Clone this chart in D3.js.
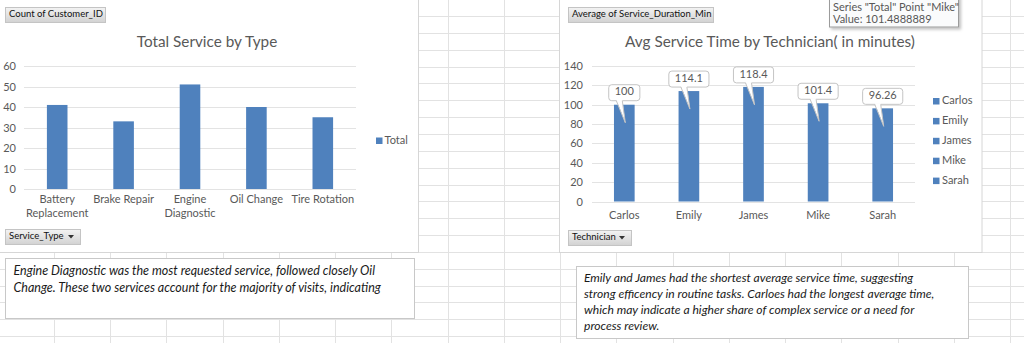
<!DOCTYPE html>
<html><head><meta charset="utf-8">
<script src="https://cdn.jsdelivr.net/npm/d3@7"></script>
<style>
html,body{margin:0;padding:0;background:#fff;overflow:hidden}
svg{display:block}
text{font-family:Lato,"Noto Sans",sans-serif}
</style>
</head><body>
<svg id="c" width="1024" height="343"></svg>
<script>
// ---------- data ----------
const serviceTypes = ["Battery Replacement", "Brake Repair", "Engine Diagnostic", "Oil Change", "Tire Rotation"];
const serviceCounts = [41, 33, 51, 40, 35];
const countTicks = [0, 10, 20, 30, 40, 50, 60];
const countSeries = ["Total"];

const technicians = ["Carlos", "Emily", "James", "Mike", "Sarah"];
const avgDurations = [100.0, 114.1, 118.4, 101.4888889, 96.26];
const durationLabels = ["100", "114.1", "118.4", "101.4", "96.26"];
const durationTicks = [0, 20, 40, 60, 80, 100, 120, 140];

const chart1Title = "Total Service by Type";
const chart2Title = "Avg Service Time by Technician( in minutes)";
const chart1Field = "Count of Customer_ID";
const chart2Field = "Average of Service_Duration_Min";
const chart1Axis = "Service_Type";
const chart2Axis = "Technician";
const tooltipLines = ['Series "Total" Point "Mike"', "Value: 101.4888889"];
const note1Lines = ["Engine Diagnostic was the most requested service, followed closely Oil",
                    "Change. These two services account for the majority of visits, indicating"];
const note2Lines = ["Emily and James had the shortest average service time, suggesting",
                    "strong efficency in routine tasks. Carloes had the longest average time,",
                    "which may indicate a higher share of complex service or a need for",
                    "process review."];

// ---------- drawing ----------
const svg = d3.select("#c");
const BAR = "#4f81bd", GRID = "#e3e3e3", AXT = "#595959";

const defs = svg.append("defs");
const grad = defs.append("linearGradient").attr("id", "btn").attr("x1", 0).attr("y1", 0).attr("x2", 0).attr("y2", 1);
grad.append("stop").attr("offset", "0%").attr("stop-color", "#f3f3f3");
grad.append("stop").attr("offset", "100%").attr("stop-color", "#d2d2d2");
const sh = defs.append("filter").attr("id", "shadow").attr("x", "-10%").attr("y", "-10%").attr("width", "130%").attr("height", "150%");
sh.append("feDropShadow").attr("dx", 2).attr("dy", 2).attr("stdDeviation", 1.5).attr("flood-color", "#000").attr("flood-opacity", 0.25);

// spreadsheet grid
const gridG = svg.append("g");
for (let k = 0; k < 20; k++) {
  const y = Math.round(16 + 16.85 * k) + 0.5;
  gridG.append("line").attr("x1", 0).attr("x2", 1024).attr("y1", y).attr("y2", y).attr("stroke", "#e2e2e2");
}
for (let k = 0; k < 18; k++) {
  const x = Math.round(54 + 56.24 * k) + 0.5;
  gridG.append("line").attr("x1", x).attr("x2", x).attr("y1", 0).attr("y2", 343).attr("stroke", "#e2e2e2");
}

function button(g, x, y, w, h, label, arrow) {
  g.append("rect").attr("x", x + 0.5).attr("y", y + 0.5).attr("width", w).attr("height", h)
    .attr("fill", "url(#btn)").attr("stroke", "#c4c4c4");
  g.append("text").attr("x", x + 4).attr("y", y + h / 2 + 0.5).attr("dominant-baseline", "middle")
    .attr("font-size", 9.5).attr("fill", "#111").text(label);
  if (arrow) {
    const ax = x + w - 9, ay = y + h / 2;
    g.append("path").attr("d", `M${ax - 3},${ay - 1.5}L${ax + 3},${ay - 1.5}L${ax},${ay + 2}Z`).attr("fill", "#333");
  }
}

function wrap(textSel, width) {
  textSel.each(function () {
    const t = d3.select(this);
    const words = t.text().split(/\s+/);
    const x = t.attr("x") || 0;
    t.text(null);
    let line = [];
    let tspan = t.append("tspan").attr("x", x).attr("dy", 0);
    words.forEach(w => {
      line.push(w);
      tspan.text(line.join(" "));
      if (tspan.node().getComputedTextLength() > width && line.length > 1) {
        line.pop();
        tspan.text(line.join(" "));
        line = [w];
        tspan = t.append("tspan").attr("x", x).attr("dy", "1.25em").text(w);
      }
    });
  });
}

function styleAxis(g) {
  g.select(".domain").remove();
  g.selectAll(".tick line").remove();
  g.selectAll("text").attr("fill", AXT).attr("font-size", 11).attr("font-family", "Lato,'Noto Sans',sans-serif");
}

// ===== Chart 1 =====
const c1 = svg.append("g");
c1.append("rect").attr("x", -1).attr("y", -1).attr("width", 419.5).attr("height", 253.5)
  .attr("fill", "#fff").attr("stroke", "#d6d6d6");
button(c1, 5, 7, 100, 15, chart1Field, false);
c1.append("text").attr("x", 207).attr("y", 47).attr("text-anchor", "middle")
  .attr("font-size", 15.3).attr("fill", AXT).text(chart1Title);

const x1 = d3.scaleBand().domain(serviceTypes).range([24, 356]).paddingInner(0.69).paddingOuter(0.345);
const y1 = d3.scaleLinear().domain([0, 60]).range([189, 66]);

c1.append("g").selectAll("line").data(countTicks).join("line")
  .attr("x1", 24).attr("x2", 356)
  .attr("y1", d => Math.round(y1(d)) + 0.5).attr("y2", d => Math.round(y1(d)) + 0.5)
  .attr("stroke", GRID);

c1.append("g").selectAll("rect").data(serviceCounts).join("rect")
  .attr("x", (d, i) => x1(serviceTypes[i])).attr("width", x1.bandwidth())
  .attr("y", d => y1(d)).attr("height", d => y1(0) - y1(d)).attr("fill", BAR);

c1.append("g").attr("transform", "translate(16,0)")
  .call(d3.axisLeft(y1).tickValues(countTicks).tickSize(0).tickPadding(0))
  .call(styleAxis);

const xa1 = c1.append("g").attr("transform", "translate(0,189)")
  .call(d3.axisBottom(x1).tickSize(0).tickPadding(14))
  .call(styleAxis);
xa1.selectAll("text").attr("dy", "0.2em").call(wrap, 72);

c1.append("rect").attr("x", 376).attr("y", 137.5).attr("width", 6.5).attr("height", 6.5).attr("fill", BAR);
c1.append("text").attr("x", 384.5).attr("y", 141).attr("dominant-baseline", "middle")
  .attr("font-size", 11).attr("fill", AXT).text(countSeries[0]);

button(c1, 5, 229, 75, 15, chart1Axis, true);

// ===== Chart 2 =====
const c2 = svg.append("g");
c2.append("rect").attr("x", 559.5).attr("y", -1).attr("width", 422.5).attr("height", 253.5)
  .attr("fill", "#fff").attr("stroke", "#d6d6d6");
button(c2, 568, 7, 145, 15, chart2Field, false);
c2.append("text").attr("x", 770).attr("y", 47).attr("text-anchor", "middle")
  .attr("font-size", 15.3).attr("fill", AXT).text(chart2Title);

const x2 = d3.scaleBand().domain(technicians).range([592, 915]).paddingInner(0.68).paddingOuter(0.34);
const y2 = d3.scaleLinear().domain([0, 140]).range([201.5, 66]);

c2.append("g").selectAll("line").data(durationTicks).join("line")
  .attr("x1", 592).attr("x2", 915)
  .attr("y1", d => Math.round(y2(d)) + 0.5).attr("y2", d => Math.round(y2(d)) + 0.5)
  .attr("stroke", GRID);

c2.append("g").selectAll("rect").data(avgDurations).join("rect")
  .attr("x", (d, i) => x2(technicians[i])).attr("width", x2.bandwidth())
  .attr("y", d => y2(d)).attr("height", d => y2(0) - y2(d)).attr("fill", BAR);

c2.append("g").attr("transform", "translate(583,0)")
  .call(d3.axisLeft(y2).tickValues(durationTicks).tickSize(0).tickPadding(0))
  .call(styleAxis);

c2.append("g").attr("transform", "translate(0,201.5)")
  .call(d3.axisBottom(x2).tickSize(0).tickPadding(14))
  .call(styleAxis)
  .selectAll("text").attr("dy", "0.3em");

// callouts
const callG = c2.append("g");
avgDurations.forEach((v, i) => {
  const cx = x2(technicians[i]) + x2.bandwidth() / 2;
  const top = y2(v);
  const g = callG.append("g");
  const t = g.append("text").attr("x", cx).attr("y", top - 12).attr("text-anchor", "middle")
    .attr("dominant-baseline", "middle").attr("font-size", 11).attr("fill", AXT).text(durationLabels[i]);
  const tw = t.node().getComputedTextLength();
  const bw = tw + 12, bh = 16, bx = cx - bw / 2, bb = top - 4;
  g.insert("rect", "text").attr("x", bx).attr("y", bb - bh).attr("width", bw).attr("height", bh)
    .attr("rx", 3).attr("fill", "#fff").attr("stroke", "#c4c4c4");
  const b1 = cx - 8, b2 = cx - 2, tipx = cx + 1, tipy = top + 18;
  g.insert("path", "text").attr("d", `M${b1},${bb - 1}L${tipx},${tipy}L${b2},${bb - 1}Z`).attr("fill", "#fff");
  g.insert("path", "text").attr("d", `M${b1},${bb}L${tipx},${tipy}L${b2},${bb}`).attr("fill", "none").attr("stroke", "#c4c4c4");
});

// legend
const leg = c2.append("g").selectAll("g").data(technicians).join("g")
  .attr("transform", (d, i) => `translate(933,${101.5 + i * 19.9})`);
leg.append("rect").attr("x", 0).attr("y", -3.5).attr("width", 6.5).attr("height", 6.5).attr("fill", BAR);
leg.append("text").attr("x", 9).attr("y", 0).attr("dominant-baseline", "middle")
  .attr("font-size", 11).attr("fill", AXT).text(d => d);

button(c2, 568, 230, 63, 15, chart2Axis, true);

// tooltip
const tip = svg.append("g");
tip.append("rect").attr("x", 829.5).attr("y", -5).attr("width", 129).attr("height", 32)
  .attr("fill", "#fafbfc").attr("stroke", "#9b9b9b").attr("filter", "url(#shadow)");
tip.selectAll("text.t").data(tooltipLines).join("text").attr("class", "t")
  .attr("x", 833).attr("y", (d, i) => 8.5 + i * 12).attr("dominant-baseline", "middle")
  .attr("font-size", 11).attr("font-family", "'Noto Sans',sans-serif").attr("fill", "#575757").text(d => d);

// notes
function note(x, y, w, h, lines, tx, ty, lh, fs) {
  const g = svg.append("g");
  g.append("rect").attr("x", x + 0.5).attr("y", y + 0.5).attr("width", w).attr("height", h)
    .attr("fill", "#fff").attr("stroke", "#c8c8c8");
  g.selectAll("text").data(lines).join("text")
    .attr("x", tx).attr("y", (d, i) => ty + i * lh).attr("dominant-baseline", "middle")
    .attr("font-size", fs).attr("font-style", "italic").attr("fill", "#1a1a1a").text(d => d);
}
note(5, 258, 409, 60, note1Lines, 13.5, 271.5, 17.5, 12.5);
note(576, 266, 392, 72, note2Lines, 584, 279, 16, 12.1);
</script>
</body></html>
